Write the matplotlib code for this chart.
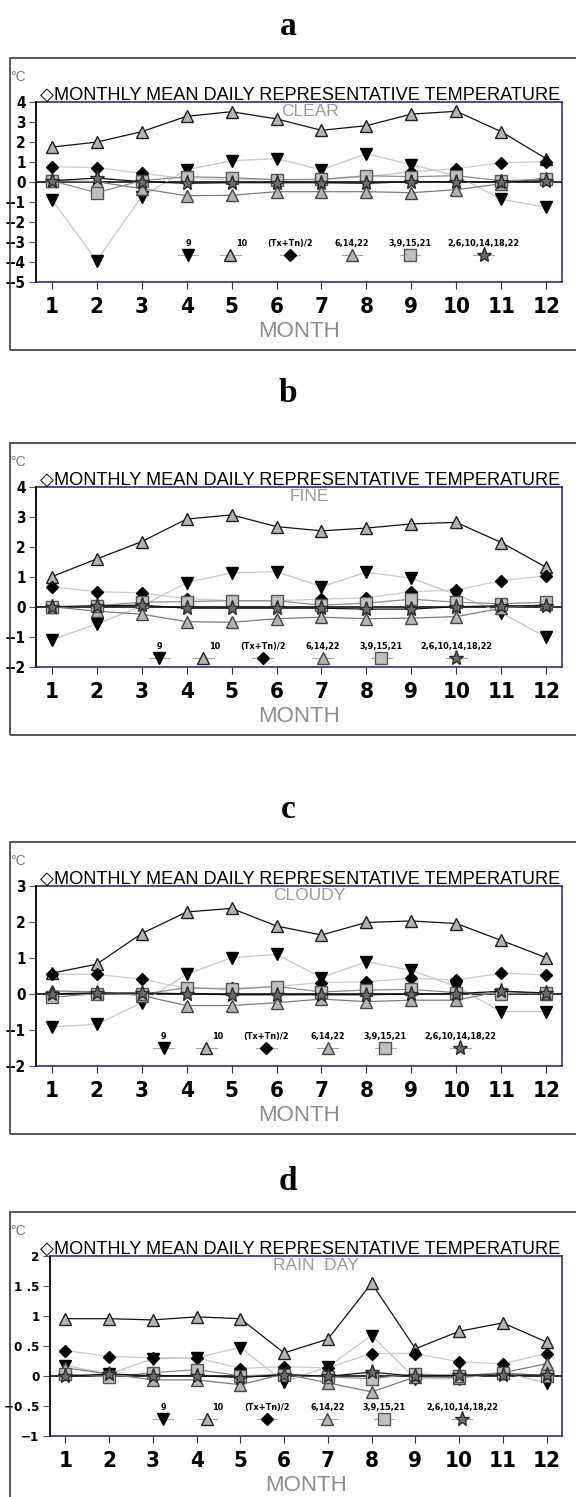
import matplotlib
matplotlib.use("Agg")
import matplotlib.pyplot as plt
from matplotlib import font_manager
from matplotlib.font_manager import FontProperties
from matplotlib.patches import Rectangle


# Données (écart à la moyenne journalière, en °C)
months = [1, 2, 3, 4, 5, 6, 7, 8, 9, 10, 11, 12]
month_labels = ["1", "2", "3", "4", "5", "6", "7", "8", "9", "10", "11", "12"]

series_labels = ["9", "10", "(Tx+Tn)/2", "6,14,22", "3,9,15,21", "2,6,10,14,18,22"]

panel_letters = ["a", "b", "c", "d"]
panel_weather = ["CLEAR", "FINE", "CLOUDY", "RAIN  DAY"]

# a : CLEAR
clear_9 = [-0.9, -3.95, -0.75, 0.6, 1.05, 1.15, 0.6, 1.4, 0.85, 0.3, -0.88, -1.28]
clear_10 = [1.73, 1.98, 2.5, 3.27, 3.5, 3.14, 2.57, 2.8, 3.38, 3.52, 2.5, 1.15]
clear_mean = [0.75, 0.7, 0.42, 0.15, 0.12, 0.1, 0.1, 0.25, 0.5, 0.65, 0.95, 1.0]
clear_6_14_22 = [0.05, 0.0, -0.35, -0.7, -0.68, -0.5, -0.5, -0.5, -0.55, -0.4, -0.1, 0.2]
clear_3_9_15_21 = [0.05, -0.55, 0.05, 0.25, 0.2, 0.1, 0.12, 0.3, 0.25, 0.3, 0.05, 0.12]
clear_2_to_22 = [0.05, 0.18, 0.0, -0.08, -0.05, -0.05, -0.05, -0.08, 0.0, 0.0, -0.02, 0.05]

# b : FINE
fine_9 = [-1.1, -0.58, 0.02, 0.8, 1.13, 1.17, 0.67, 1.15, 0.95, 0.4, -0.2, -1.02]
fine_10 = [1.0, 1.59, 2.17, 2.92, 3.06, 2.67, 2.53, 2.62, 2.76, 2.81, 2.14, 1.31]
fine_mean = [0.67, 0.5, 0.46, 0.27, 0.2, 0.2, 0.25, 0.3, 0.5, 0.55, 0.87, 1.03]
fine_6_14_22 = [0.0, -0.15, -0.25, -0.5, -0.52, -0.4, -0.35, -0.4, -0.38, -0.33, -0.05, 0.08]
fine_3_9_15_21 = [-0.02, 0.03, 0.15, 0.17, 0.2, 0.2, 0.05, 0.12, 0.25, 0.15, 0.1, 0.15]
fine_2_to_22 = [0.0, 0.03, 0.05, -0.05, -0.05, -0.05, -0.05, -0.08, -0.08, 0.0, 0.03, 0.03]

# c : CLOUDY
cloudy_9 = [-0.92, -0.85, -0.25, 0.54, 1.0, 1.09, 0.45, 0.89, 0.65, 0.2, -0.5, -0.5]
cloudy_10 = [0.57, 0.82, 1.67, 2.27, 2.37, 1.88, 1.63, 1.98, 2.02, 1.95, 1.48, 1.0]
cloudy_mean = [0.54, 0.54, 0.4, 0.15, 0.15, 0.2, 0.31, 0.33, 0.43, 0.38, 0.57, 0.52]
cloudy_6_14_22 = [0.08, 0.05, -0.05, -0.33, -0.33, -0.25, -0.15, -0.22, -0.18, -0.18, 0.07, 0.0]
cloudy_3_9_15_21 = [-0.1, 0.0, -0.02, 0.17, 0.12, 0.2, 0.05, 0.1, 0.12, 0.03, 0.0, 0.03]
cloudy_2_to_22 = [0.0, 0.02, 0.02, 0.0, -0.03, -0.03, -0.03, -0.03, -0.01, 0.0, 0.07, 0.02]

# d : RAIN DAY
rain_9 = [0.17, 0.03, 0.28, 0.3, 0.47, -0.1, 0.15, 0.67, -0.05, -0.05, 0.05, -0.12]
rain_10 = [0.95, 0.95, 0.93, 0.98, 0.95, 0.38, 0.61, 1.54, 0.45, 0.74, 0.88, 0.56]
rain_mean = [0.42, 0.32, 0.3, 0.3, 0.12, 0.15, 0.13, 0.37, 0.37, 0.23, 0.2, 0.37]
rain_6_14_22 = [0.13, 0.03, -0.07, -0.07, -0.15, 0.03, -0.12, -0.27, -0.02, -0.03, 0.05, 0.2]
rain_3_9_15_21 = [0.03, -0.02, 0.05, 0.1, 0.0, 0.02, -0.02, -0.05, 0.03, 0.0, 0.05, 0.0]
rain_2_to_22 = [-0.01, 0.03, 0.0, 0.0, -0.03, 0.02, -0.01, 0.06, -0.01, 0.01, 0.01, 0.01]

# Graduations de l'axe vertical
yticks_clear = [-5, -4, -3, -2, -1, 0, 1, 2, 3, 4]
yticks_fine = [-2, -1, 0, 1, 2, 3, 4]
yticks_cloudy = [-2, -1, 0, 1, 2, 3]
yticks_rain = [-1, -0.5, 0, 0.5, 1, 1.5, 2]
ylabels_rain = ["\u22121", "\u22120 .5", "0", "0 .5", "1", "1 .5", "2"]


panels = [
    [clear_9, clear_10, clear_mean, clear_6_14_22, clear_3_9_15_21, clear_2_to_22],
    [fine_9, fine_10, fine_mean, fine_6_14_22, fine_3_9_15_21, fine_2_to_22],
    [cloudy_9, cloudy_10, cloudy_mean, cloudy_6_14_22, cloudy_3_9_15_21, cloudy_2_to_22],
    [rain_9, rain_10, rain_mean, rain_6_14_22, rain_3_9_15_21, rain_2_to_22],
]
panel_yticks = [yticks_clear, yticks_fine, yticks_cloudy, yticks_rain]


# Polices : on cherche une police grasse étroite pour les graduations
names = {f.name for f in font_manager.fontManager.ttflist}
sans = "Liberation Sans" if "Liberation Sans" in names else "DejaVu Sans"
serif = "Liberation Serif" if "Liberation Serif" in names else "DejaVu Serif"

narrow_file = None
for f in font_manager.fontManager.ttflist:
    fname = f.fname.lower()
    if ("narrow" in fname or "condensed" in fname) and "bold" in fname and "italic" not in fname \
            and "oblique" not in fname:
        narrow_file = f.fname
        break


def tick_font(size):
    if narrow_file:
        return FontProperties(fname=narrow_file, size=size)
    return FontProperties(family=sans, weight="bold", stretch="condensed", size=size * 0.9)


# Styles des six séries
styles = [
    dict(marker="v", mfc="black", mec="black", ms=8, color="#c6c6c6"),
    dict(marker="^", mfc="#b4b4b4", mec="#1e1e1e", ms=9, color="#111111"),
    dict(marker="D", mfc="black", mec="black", ms=6, color="#cacaca"),
    dict(marker="^", mfc="#b4b4b4", mec="#444444", ms=9, color="#7c7c7c"),
    dict(marker="s", mfc="#c0c0c0", mec="#555555", ms=8, color="#8c8c8c"),
    dict(marker="*", mfc="#6c6c6c", mec="#2a2a2a", ms=11, color="#111111"),
]


# Mise en page (pixels)
W, H = 576, 1497
box_tops = [58, 443, 842, 1212]
letter_base = [35, 402, 818, 1190]
axes_left = [36, 36, 36, 50]
ytick_size = [11, 11, 11, 9.5]
legend_y = [-3.65, -1.7, -1.52, -0.72]
legend_x = [
    [4.03, 4.97, 6.3, 7.68, 8.97, 10.61],
    [3.39, 4.37, 5.69, 7.03, 8.33, 10.0],
    [3.49, 4.44, 5.77, 7.14, 8.42, 10.09],
    [3.24, 4.23, 5.6, 6.99, 8.29, 10.07],
]

fig = plt.figure(figsize=(W / 100, H / 100), dpi=100)


def fx(px):
    return px / W


def fy(py):
    return 1 - py / H


navy = "#1c1c78"

for i in range(4):
    top = box_tops[i]

    # Lettre du panneau
    fig.text(0.5, fy(letter_base[i]), panel_letters[i], ha="center", va="baseline",
             fontsize=24, fontweight="bold", family=serif)

    # Cadre du panneau
    box_bottom = top + 292
    fig.patches.append(Rectangle((fx(10), fy(box_bottom)), fx(600), fy(top) - fy(box_bottom),
                                 transform=fig.transFigure, fill=False,
                                 edgecolor="#3a3a3a", lw=1.2))

    ax_top = top + 43.7
    ax_bottom = ax_top + 180
    left = axes_left[i]
    ax = fig.add_axes([fx(left), fy(ax_bottom), fx(562 - left), fy(ax_top) - fy(ax_bottom)])

    # Ligne zéro
    ax.axhline(0, color="#222222", lw=1.3, zorder=1)

    for values, st in zip(panels[i], styles):
        ax.plot(months, values, lw=0.9, zorder=2, **st)

    yt = panel_yticks[i]
    ax.set_xlim(0.65, 12.35)
    ax.set_ylim(yt[0], yt[-1])
    ax.set_xticks(months)
    ax.set_xticklabels(month_labels)
    ax.set_yticks(yt)
    if i == 3:
        ax.set_yticklabels(ylabels_rain)
    else:
        ax.set_yticklabels([str(v).replace("-", "\u2212") for v in yt])

    for lab in ax.get_xticklabels():
        lab.set_fontproperties(tick_font(16))
    for lab in ax.get_yticklabels():
        lab.set_fontproperties(tick_font(ytick_size[i]))

    ax.tick_params(axis="x", direction="out", length=5, width=0.8, color="#333333", pad=6)
    ax.tick_params(axis="y", direction="out", length=5, width=0.8, color="#555555", pad=2.5)

    for side in ["top", "right", "bottom"]:
        ax.spines[side].set_color(navy)
        ax.spines[side].set_linewidth(1.1)
    ax.spines["left"].set_color("black")
    ax.spines["left"].set_linewidth(1.3)

    # Titre et textes
    fig.text(fx(40), fy(ax_top - 2), "\u25c7MONTHLY MEAN DAILY REPRESENTATIVE TEMPERATURE",
             ha="left", va="baseline", fontsize=13.1, family=[sans, "DejaVu Sans"])
    fig.text(fx(10), fy(top + 12), "°C", ha="left", va="top", fontsize=10,
             color="#7a7a7a", family=sans)
    ax.text(0.52, 0.985, panel_weather[i], transform=ax.transAxes, ha="center", va="top",
            fontsize=12.5, color="#9a9a9a", family=sans)
    ax.text(0.5, -0.22, "MONTH", transform=ax.transAxes, ha="center", va="top",
            fontsize=16, color="#8c8c8c", family=sans)

    # Légende interne
    ly = legend_y[i]
    for j, (label, st) in enumerate(zip(series_labels, styles)):
        x0 = legend_x[i][j]
        ax.plot([x0 - 0.23, x0 + 0.23], [ly, ly], color="#a8a8a8", lw=0.8, zorder=3)
        ax.plot([x0], [ly], ls="none", zorder=4, marker=st["marker"], mfc=st["mfc"],
                mec=st["mec"], ms=st["ms"])
        dx = 8 if label == "10" else 0
        ax.annotate(label, (x0, ly), xytext=(dx, 5), textcoords="offset points",
                    ha="center", va="bottom", fontproperties=tick_font(6.5))

fig.savefig("out.png", dpi=100)
plt.close(fig)
